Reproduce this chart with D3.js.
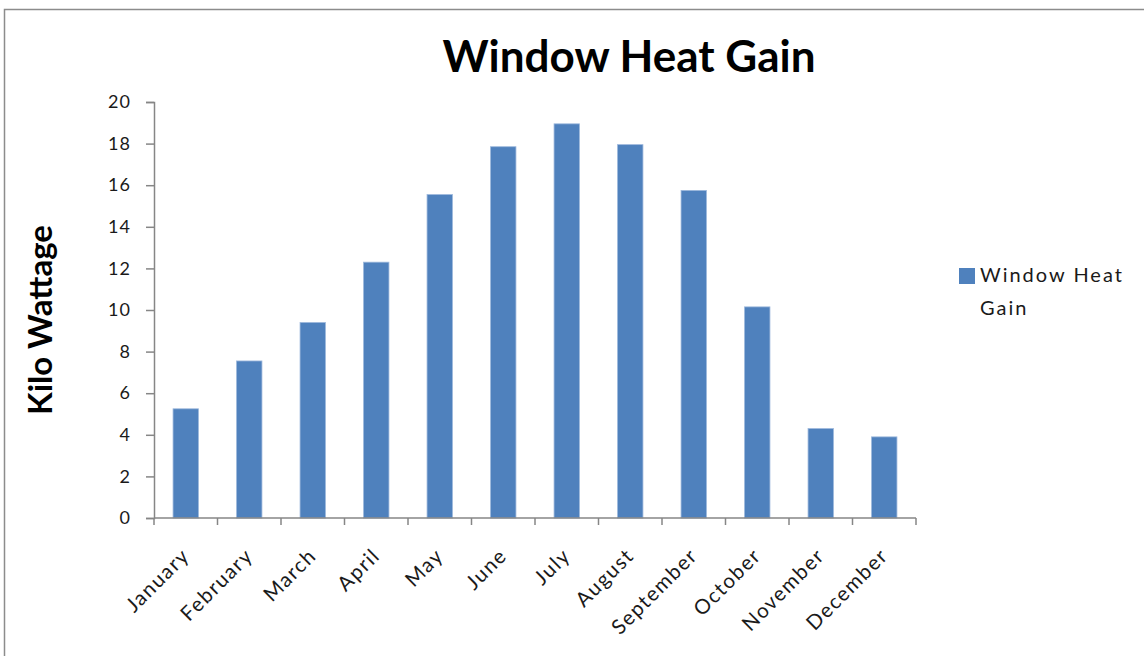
<!DOCTYPE html>
<html>
<head>
<meta charset="utf-8">
<script src="https://cdn.jsdelivr.net/npm/d3@7"></script>
<style>
  html, body { margin: 0; padding: 0; background: #fff; }
  svg { display: block; }
  text { font-family: Lato, "Open Sans", sans-serif; }
</style>
</head>
<body>
<svg id="chart" width="1144" height="656"></svg>
<script>
// Monthly window heat gain (kW)
const months = ["January", "February", "March", "April", "May", "June",
                "July", "August", "September", "October", "November", "December"];
const heatGain = [5.25, 7.55, 9.4, 12.3, 15.55, 17.85, 18.95, 17.95, 15.75, 10.15, 4.3, 3.9];
const yTicks = [0, 2, 4, 6, 8, 10, 12, 14, 16, 18, 20];
const seriesName = "Window Heat Gain";
const chartTitle = "Window Heat Gain";
const yTitle = "Kilo Wattage";

const svg = d3.select("#chart");
const W = 1144, H = 656;
const plot = { left: 154, right: 916, top: 102, bottom: 518 };
const axisColor = "#868686";
const barColor = "#4F81BD";
const labelColor = "#1a1a1a";

// chart frame
svg.append("rect")
  .attr("x", 4.5).attr("y", 9.5)
  .attr("width", W + 10).attr("height", H + 10)
  .attr("fill", "#fff")
  .attr("stroke", "#8c8c8c").attr("stroke-width", 1.5);

const x = d3.scaleBand().domain(months)
  .range([plot.left, plot.right])
  .paddingInner(0.6).paddingOuter(0.3);
const xOuter = d3.scaleBand().domain(months).range([plot.left, plot.right]);
const y = d3.scaleLinear().domain([0, 20]).range([plot.bottom, plot.top]);

// bars
svg.append("g").selectAll("rect")
  .data(heatGain)
  .join("rect")
  .attr("x", (d, i) => x(months[i]))
  .attr("width", x.bandwidth())
  .attr("y", d => y(d))
  .attr("height", d => y(0) - y(d))
  .attr("fill", barColor)
  .attr("stroke", "#9db8dc").attr("stroke-width", 0.8);

// y axis
const yAxis = svg.append("g")
  .attr("transform", `translate(${plot.left},0)`)
  .call(d3.axisLeft(y).tickValues(yTicks).tickSize(8).tickPadding(15).tickFormat(d3.format("d")));
yAxis.select(".domain").attr("stroke", axisColor).attr("stroke-width", 1.5);
yAxis.selectAll(".tick line").attr("stroke", axisColor).attr("stroke-width", 1.5);
yAxis.selectAll(".tick text")
  .attr("fill", labelColor)
  .style("font-size", "18px")
  .style("letter-spacing", "1px");

// x axis: ticks at category boundaries
const xAxisG = svg.append("g").attr("transform", `translate(0,${plot.bottom})`);
xAxisG.append("line")
  .attr("x1", plot.left).attr("x2", plot.right)
  .attr("stroke", axisColor).attr("stroke-width", 1.5);
const bounds = months.map(m => xOuter(m)).concat([plot.right]);
xAxisG.selectAll("line.tk").data(bounds).join("line")
  .attr("class", "tk")
  .attr("x1", d => d).attr("x2", d => d)
  .attr("y1", 0).attr("y2", 7)
  .attr("stroke", axisColor).attr("stroke-width", 1.5);
xAxisG.selectAll("text").data(months).join("text")
  .attr("transform", m => `translate(${x(m) + x.bandwidth() / 2 + 5},${39}) rotate(-45)`)
  .attr("text-anchor", "end")
  .attr("fill", labelColor)
  .style("font-size", "20.5px")
  .style("letter-spacing", "1.5px")
  .text(m => m);

// title
svg.append("text")
  .attr("x", 629).attr("y", 72)
  .attr("text-anchor", "middle")
  .attr("font-weight", "bold")
  .attr("fill", "#000")
  .style("font-size", "44px")
  .text(chartTitle);

// y axis title
svg.append("text")
  .attr("transform", "translate(52,320) rotate(-90)")
  .attr("text-anchor", "middle")
  .attr("font-weight", "bold")
  .attr("fill", "#000")
  .style("font-size", "33px")
  .text(yTitle);

// legend
const lg = svg.append("g").attr("transform", "translate(959,268)");
lg.append("rect").attr("x", 0).attr("y", 0).attr("width", 16).attr("height", 16).attr("fill", barColor);
const words = seriesName.split(" ");
const lt = lg.append("text").attr("fill", labelColor)
  .style("font-size", "20px").style("letter-spacing", "2px");
lt.append("tspan").attr("x", 21).attr("y", 14).text(words.slice(0, 2).join(" "));
lt.append("tspan").attr("x", 21).attr("y", 47).text(words.slice(2).join(" "));
</script>
</body>
</html>
